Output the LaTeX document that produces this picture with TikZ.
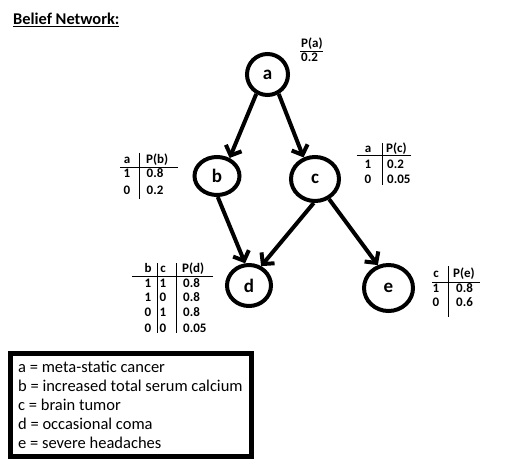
\documentclass[tikz,border=0pt]{standalone}
\usepackage{fontspec}
\setmainfont{Carlito}
\usetikzlibrary{shapes.geometric,arrows.meta}
\begin{document}
\begin{tikzpicture}[x=1pt,y=-1pt,
  nd/.style={draw, ellipse, line width=4pt, inner sep=0pt, font=\fontsize{19}{21}\selectfont\bfseries},
  arr/.style={line width=4pt, -{Straight Barb[length=8pt,width=17pt]}},
  tv/.style={font=\fontsize{13}{15}\selectfont\bfseries, inner sep=0pt, anchor=base west},
  tc/.style={font=\fontsize{13}{15}\selectfont\bfseries, inner sep=0pt, anchor=base},
  rl/.style={line width=1pt},
  lg/.style={font=\fontsize{16.5}{19}\selectfont, inner sep=0pt, anchor=base west}]
\useasboundingbox (0,0) rectangle (508,473);

% title
\node[font=\fontsize{16.4}{19}\selectfont\bfseries, inner sep=0pt, anchor=base west] (title) at (13,25) {\underline{Belief Network:}};

% nodes
\node[nd, minimum width=41pt, minimum height=41pt] (a) at (267.5,74.5) {a};
\node[nd, minimum width=45pt, minimum height=38pt] (b) at (217,176) {b};
\node[nd, minimum width=48pt, minimum height=44pt] (c) at (315,179) {c};
\node[nd, minimum width=44pt, minimum height=41pt] (d) at (249,285.5) {d};
\node[nd, minimum width=49pt, minimum height=46pt] (e) at (388.5,288) {e};

% edges
\draw[arr] (a.240) -- (b.55);
\draw[arr] (a.-60) -- (c.118);
\draw[arr] (b.-88) -- (d.100);
\draw[arr] (c.-93) -- (d.58);
\draw[arr] (c.-55) -- (e.115);

% table a
\node[tv] (ta0) at (301,48) {P(a)};
\draw[rl] (300,52) -- (323,52);
\node[tv] (ta1) at (301,62) {0.2};

% table b
\node[tc] (tb00) at (127,164) {a};
\node[tv] (tb01) at (146,164) {P(b)};
\node[tc] (tb10) at (127,178) {1};
\node[tv] (tb11) at (146.5,178) {0.8};
\node[tc] (tb20) at (127,194) {0};
\node[tv] (tb21) at (146.5,194) {0.2};
\draw[rl] (139,153) -- (139,199);
\draw[rl] (120,168) -- (178,168);

% table c
\node[tc] (tcc00) at (368,153) {a};
\node[tv] (tcc01) at (386,153) {P(c)};
\node[tc] (tcc10) at (368,168) {1};
\node[tv] (tcc11) at (387,168) {0.2};
\node[tc] (tcc20) at (368,183) {0};
\node[tv] (tcc21) at (387,183) {0.05};
\draw[rl] (382,143) -- (382,185);
\draw[rl] (357,156) -- (411,156);

% table d
\node[tc] (td00) at (148,272) {b};
\node[tc] (td01) at (163,272) {c};
\node[tv] (td02) at (182,272) {P(d)};
\node[tc] (td10) at (148,287) {1};
\node[tc] (td11) at (163,287) {1};
\node[tv] (td12) at (183,287) {0.8};
\node[tc] (td20) at (148,301) {1};
\node[tc] (td21) at (163,301) {0};
\node[tv] (td22) at (183,301) {0.8};
\node[tc] (td30) at (148,316) {0};
\node[tc] (td31) at (163,316) {1};
\node[tv] (td32) at (183,316) {0.8};
\node[tc] (td40) at (148,332) {0};
\node[tc] (td41) at (163,332) {0};
\node[tv] (td42) at (183,332) {0.05};
\draw[rl] (157,263) -- (157,333);
\draw[rl] (176,263) -- (176,333);
\draw[rl] (132,276) -- (213,276);

% table e
\node[tc] (te00) at (436,277) {c};
\node[tv] (te01) at (453,277) {P(e)};
\node[tc] (te10) at (436,292) {1};
\node[tv] (te11) at (456,292) {0.8};
\node[tc] (te20) at (436,306) {0};
\node[tv] (te21) at (456,306) {0.6};
\draw[rl] (448,266) -- (448,317);
\draw[rl] (432,282) -- (480,282);

% legend
\node[draw, line width=5pt, minimum width=241pt, minimum height=103pt, inner sep=0pt, outer sep=0pt, anchor=north west] (legend) at (10,353.5) {};
\node[lg] (l1) at (18,372) {a = meta-static cancer};
\node[lg] (l2) at (18,391) {b = increased total serum calcium};
\node[lg] (l3) at (18,410) {c = brain tumor};
\node[lg] (l4) at (18,429) {d = occasional coma};
\node[lg] (l5) at (18,448) {e = severe headaches};
\end{tikzpicture}
\end{document}
